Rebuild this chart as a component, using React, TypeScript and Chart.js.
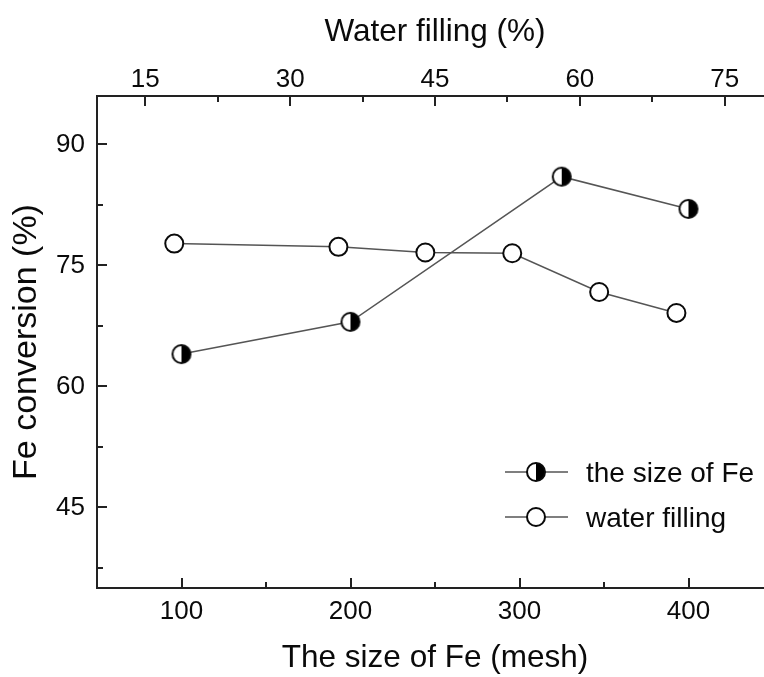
import React, { useEffect, useRef } from "react";
import { Chart, registerables } from "chart.js";

Chart.register(...registerables);

// ---- data ----
const feSizes = [100, 200, 325, 400];
const conversionBySize = [64, 68, 86, 82];
const waterFilling = [18, 35, 44, 53, 62, 70];
const conversionByWater = [77.7, 77.3, 76.6, 76.5, 71.7, 69.1];

const sizeTicks = [100, 200, 300, 400];
const sizeMinorTicks = [150, 250, 350];
const waterTicks = [15, 30, 45, 60, 75];
const waterMinorTicks = [22.5, 37.5, 52.5, 67.5];
const conversionTicks = [45, 60, 75, 90];
const conversionMinorTicks = [37.5, 52.5, 67.5, 82.5];

const legendLabels = ["the size of Fe", "water filling"];
const axisTitles = {
  bottom: "The size of Fe (mesh)",
  top: "Water filling (%)",
  left: "Fe conversion (%)",
};

const FONT = '"Liberation Sans", Arial, Helvetica, sans-serif';
const INK = "#0a0a0a";
const AXIS = "#222222";
const LINE = "#555555";
const R = 9;
const BW = 2;

function makeHalfMarker(r: number, bw: number): HTMLCanvasElement {
  const size = 24;
  const c = document.createElement("canvas");
  c.width = size;
  c.height = size;
  const ctx = c.getContext("2d")!;
  const cx = size / 2;
  ctx.beginPath();
  ctx.arc(cx, cx, r, 0, Math.PI * 2);
  ctx.fillStyle = "#ffffff";
  ctx.fill();
  ctx.beginPath();
  ctx.moveTo(cx, cx - r);
  ctx.arc(cx, cx, r, -Math.PI / 2, Math.PI / 2);
  ctx.closePath();
  ctx.fillStyle = "#000000";
  ctx.fill();
  ctx.beginPath();
  ctx.arc(cx, cx, r, 0, Math.PI * 2);
  ctx.lineWidth = bw;
  ctx.strokeStyle = INK;
  ctx.stroke();
  return c;
}

export default function App() {
  const ref = useRef<HTMLCanvasElement | null>(null);

  useEffect(() => {
    if (!ref.current) return;
    const half = makeHalfMarker(R, BW);

    const decor = {
      id: "decor",
      afterDraw(chart: any) {
        const ctx = chart.ctx as CanvasRenderingContext2D;
        const { x, x2, y } = chart.scales;
        const a = chart.chartArea;
        ctx.save();
        ctx.strokeStyle = AXIS;
        ctx.lineWidth = 2;
        const seg = (x1: number, y1: number, xx: number, yy: number) => {
          ctx.beginPath();
          ctx.moveTo(x1, y1);
          ctx.lineTo(xx, yy);
          ctx.stroke();
        };
        const MAJ = 10;
        const MIN = 6;
        sizeTicks.forEach((v) => {
          const p = Math.round(x.getPixelForValue(v));
          seg(p, a.bottom, p, a.bottom - MAJ);
        });
        sizeMinorTicks.forEach((v) => {
          const p = Math.round(x.getPixelForValue(v));
          seg(p, a.bottom, p, a.bottom - MIN);
        });
        waterTicks.forEach((v) => {
          const p = Math.round(x2.getPixelForValue(v));
          seg(p, a.top, p, a.top + MAJ);
        });
        waterMinorTicks.forEach((v) => {
          const p = Math.round(x2.getPixelForValue(v));
          seg(p, a.top, p, a.top + MIN);
        });
        conversionTicks.forEach((v) => {
          const p = Math.round(y.getPixelForValue(v));
          seg(a.left, p, a.left + MAJ, p);
        });
        conversionMinorTicks.forEach((v) => {
          const p = Math.round(y.getPixelForValue(v));
          seg(a.left, p, a.left + MIN, p);
        });

        // legend
        const rows = [472, 517];
        const lx1 = 505;
        const lx2 = 568;
        const mx = 536;
        ctx.font = `28px ${FONT}`;
        ctx.textAlign = "left";
        ctx.textBaseline = "alphabetic";
        rows.forEach((cy, i) => {
          ctx.strokeStyle = LINE;
          ctx.lineWidth = 1.5;
          seg(lx1, cy, lx2, cy);
          if (i === 0) {
            ctx.drawImage(half, mx - half.width / 2, cy - half.height / 2);
          } else {
            ctx.beginPath();
            ctx.arc(mx, cy, R, 0, Math.PI * 2);
            ctx.fillStyle = "#fff";
            ctx.fill();
            ctx.lineWidth = BW;
            ctx.strokeStyle = INK;
            ctx.stroke();
          }
          ctx.fillStyle = INK;
          ctx.fillText(legendLabels[i], 586, cy + 10);
        });
        ctx.restore();
      },
    };

    const tickFont = { size: 26, family: FONT };
    const titleFont = { size: 31.5, family: FONT };

    const chart = new Chart(ref.current, {
      type: "line",
      data: {
        datasets: [
          {
            label: legendLabels[0],
            data: feSizes.map((s, i) => ({ x: s, y: conversionBySize[i] })),
            xAxisID: "x",
            yAxisID: "y",
            borderColor: LINE,
            borderWidth: 1.5,
            pointStyle: half as any,
            pointRadius: R,
            backgroundColor: "#fff",
            tension: 0,
          },
          {
            label: legendLabels[1],
            data: waterFilling.map((w, i) => ({ x: w, y: conversionByWater[i] })),
            xAxisID: "x2",
            yAxisID: "y",
            borderColor: LINE,
            borderWidth: 1.5,
            pointStyle: "circle",
            pointRadius: R,
            pointBorderWidth: BW,
            pointBorderColor: INK,
            pointBackgroundColor: "#fff",
            backgroundColor: "#fff",
            tension: 0,
          },
        ],
      },
      options: {
        animation: false,
        responsive: false,
        events: [],
        layout: { padding: { left: 0, top: 0, right: 47, bottom: 0 }, autoPadding: false },
        plugins: { legend: { display: false }, tooltip: { enabled: false } },
        scales: {
          x: {
            type: "linear",
            position: "bottom",
            min: 50,
            max: 450,
            afterBuildTicks: (s: any) => {
              s.ticks = sizeTicks.map((v) => ({ value: v }));
            },
            afterFit: (s: any) => {
              s.height = 89;
            },
            grid: { display: true, drawOnChartArea: false, drawTicks: false },
            border: { display: true, color: AXIS, width: 2 },
            ticks: { font: tickFont, color: INK, padding: 8, maxRotation: 0, callback: (v: any) => String(v) },
            title: { display: true, text: axisTitles.bottom, font: titleFont, color: INK, padding: { top: 0, bottom: 0 } },
          },
          x2: {
            type: "linear",
            position: "top",
            min: 10,
            max: 80,
            afterBuildTicks: (s: any) => {
              s.ticks = waterTicks.map((v) => ({ value: v }));
            },
            afterFit: (s: any) => {
              s.height = 96;
            },
            grid: { display: true, drawOnChartArea: false, drawTicks: false },
            border: { display: true, color: AXIS, width: 2 },
            ticks: { font: tickFont, color: INK, padding: 1, maxRotation: 0, callback: (v: any) => String(v) },
            title: { display: true, text: axisTitles.top, font: titleFont, color: INK, padding: { top: 13, bottom: 0 } },
          },
          y: {
            type: "linear",
            position: "left",
            min: 35,
            max: 96,
            afterBuildTicks: (s: any) => {
              s.ticks = conversionTicks.map((v) => ({ value: v }));
            },
            afterFit: (s: any) => {
              s.width = 97;
            },
            grid: { display: true, drawOnChartArea: false, drawTicks: false },
            border: { display: true, color: AXIS, width: 2 },
            ticks: { font: tickFont, color: INK, padding: 12, callback: (v: any) => String(v) },
            title: { display: true, text: axisTitles.left, font: { size: 34, family: FONT }, color: INK, padding: { top: 6, bottom: 0 } },
          },
        },
      },
      plugins: [decor],
    } as any);

    return () => chart.destroy();
  }, []);

  return (
    <div
      style={{
        position: "fixed",
        left: 0,
        top: 0,
        width: 764,
        height: 677,
        overflow: "hidden",
        background: "#ffffff",
      }}
    >
      <canvas ref={ref} width={820} height={677} style={{ display: "block" }} />
    </div>
  );
}
